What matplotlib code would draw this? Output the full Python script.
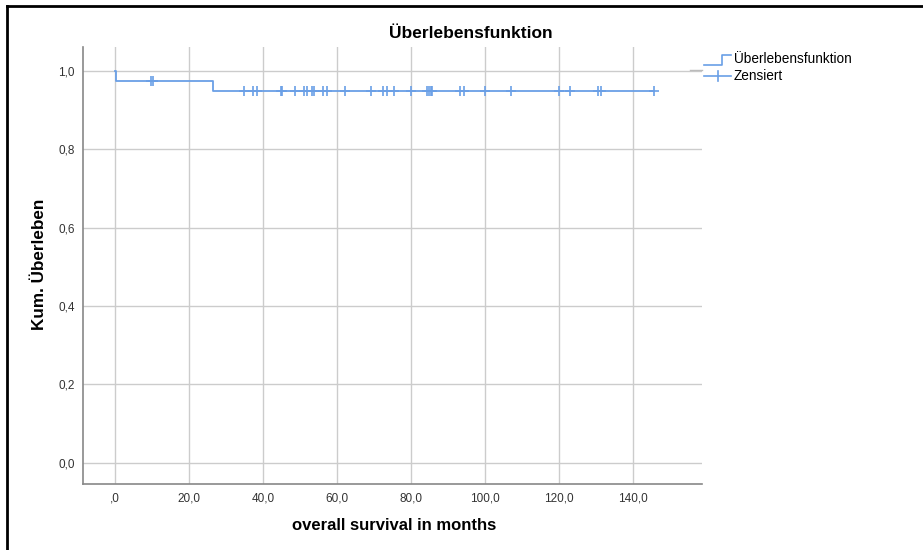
import matplotlib.pyplot as plt
from matplotlib.lines import Line2D

plt.rcParams['font.family'] = ['Liberation Sans', 'DejaVu Sans']

# Kaplan-Meier steps (time in months, cumulative survival)
step_times = [0.0, 0.2, 26.4, 145.7]
step_surv = [1.0, 0.975, 0.95, 0.95]

# censored observations
cens_times = [9.7, 10.2, 35.0, 37.4, 38.3, 44.9, 45.2, 48.6, 51.1, 51.8, 53.3, 53.8,
              56.3, 57.2, 62.2, 69.3, 72.5, 73.4, 75.3, 79.9, 84.2, 84.9, 85.3, 85.6,
              93.2, 94.3, 99.9, 107.0, 120.1, 123.0, 130.6, 131.4, 145.7]

x_ticks = [0, 20, 40, 60, 80, 100, 120, 140]
x_labels = [",0", "20,0", "40,0", "60,0", "80,0", "100,0", "120,0", "140,0"]
y_ticks = [0.0, 0.2, 0.4, 0.6, 0.8, 1.0]
y_labels = ["0,0", "0,2", "0,4", "0,6", "0,8", "1,0"]

col = "#6a9fe6"


def surv_at(t):
    s = step_surv[0]
    for tt, ss in zip(step_times, step_surv):
        if t >= tt:
            s = ss
    return s


fig = plt.figure(figsize=(9.23, 5.5), dpi=100)
ax = fig.add_axes([0.0899, 0.12, 0.6707, 0.7945])

ax.step(step_times, step_surv, where="post", color=col, lw=1.3)
ax.plot(cens_times, [surv_at(t) for t in cens_times], linestyle="none",
        marker="+", color=col, markersize=6.5, markeredgewidth=1.2)

ax.set_xlim(-8.6, 158.6)
ax.set_ylim(-0.054, 1.061)
ax.set_xticks(x_ticks)
ax.set_xticklabels(x_labels)
ax.set_yticks(y_ticks)
ax.set_yticklabels(y_labels)
ax.tick_params(length=0, labelsize=8.5, colors="#333333", pad=6)
ax.grid(True, color="#cccccc", lw=1)
ax.set_axisbelow(True)
for s in ["top", "right"]:
    ax.spines[s].set_visible(False)
for s in ["left", "bottom"]:
    ax.spines[s].set_color("#888888")
    ax.spines[s].set_linewidth(1.2)

fig.text(471 / 923, 1 - 33 / 550, "Überlebensfunktion", ha="center", va="center",
         fontsize=12.5, fontweight="bold")
fig.text(394 / 923, 1 - 525 / 550, "overall survival in months", ha="center",
         va="center", fontsize=12, fontweight="bold")
fig.text(40 / 923, 1 - 264 / 550, "Kum. Überleben", ha="center", va="center",
         rotation=90, fontsize=12.3, fontweight="bold")

# legend drawn by hand
W, H = 923, 550
fig.add_artist(Line2D([704 / W, 722 / W, 722 / W, 731 / W],
                      [1 - 65 / H, 1 - 65 / H, 1 - 55 / H, 1 - 55 / H],
                      color=col, lw=1.2))
fig.add_artist(Line2D([704 / W, 731 / W], [1 - 76 / H, 1 - 76 / H], color=col, lw=1.2))
fig.add_artist(Line2D([718 / W, 718 / W], [1 - 71 / H, 1 - 81 / H], color=col, lw=1.2))
fig.add_artist(Line2D([690 / W, 702 / W], [1 - 70 / H, 1 - 70 / H], color="#bbbbbb", lw=1))
fig.text(734 / W, 1 - 59 / H, "Überlebensfunktion", va="center", fontsize=9.8)
fig.text(734 / W, 1 - 76 / H, "Zensiert", va="center", fontsize=9.8)

# frame around the image
fig.add_artist(Line2D([7 / W, 7 / W], [0, 1 - 6 / H], color="black", lw=2))
fig.add_artist(Line2D([7 / W, 1], [1 - 6 / H, 1 - 6 / H], color="black", lw=2))

plt.savefig("out.png")
